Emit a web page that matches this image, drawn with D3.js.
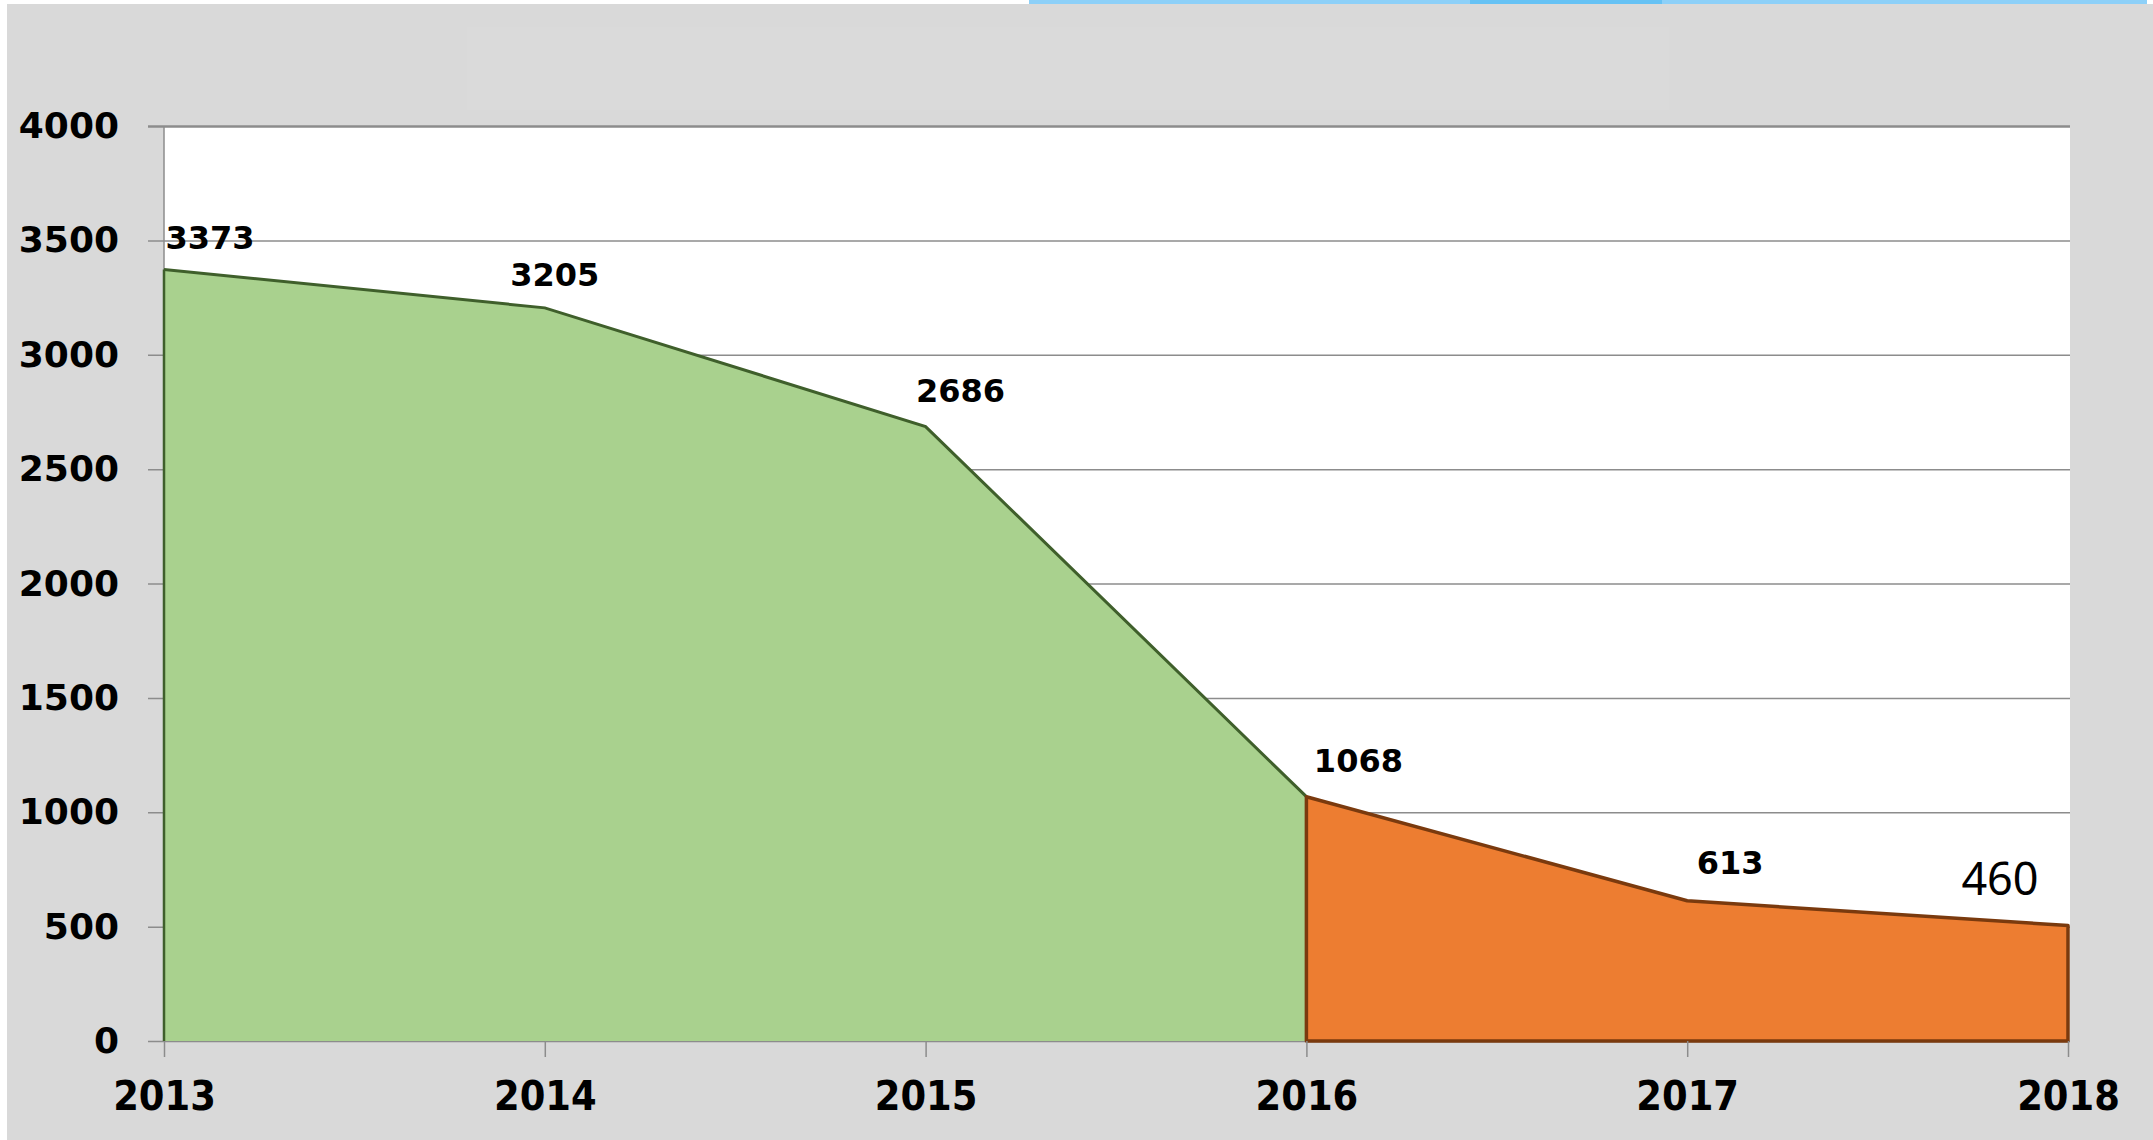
<!DOCTYPE html>
<html>
<head>
<meta charset="utf-8">
<script src="https://cdn.jsdelivr.net/npm/d3@7"></script>
<style>
  html, body { margin: 0; padding: 0; background: #ffffff; }
  svg { display: block; }
</style>
</head>
<body>
<svg width="2153" height="1140"></svg>
<script>
// data
var years = [2013, 2014, 2015, 2016, 2017, 2018];
var values = [3373, 3205, 2686, 1068, 613, 505];
var valueLabels = ["3373", "3205", "2686", "1068", "613", "460"];
var yTicks = [0, 500, 1000, 1500, 2000, 2500, 3000, 3500, 4000];
var splitYear = 2016;

window.onload = function() {

  var svg = d3.select("svg");
  var width = +svg.attr("width");
  var height = +svg.attr("height");

  var left = 164, right = 2068, top = 126, bottom = 1041;
  var plotRight = 2070;

  var x = d3.scaleLinear().domain([2013, 2018]).range([left, right]);
  var y = d3.scaleLinear().domain([0, 4000]).range([bottom, top]);

  // slide background
  svg.append("rect")
      .attr("x", 7).attr("y", 4)
      .attr("width", width - 7).attr("height", height - 4)
      .attr("fill", "#d9d9d9");
  svg.append("rect")
      .attr("x", 467).attr("y", 27)
      .attr("width", 1202).attr("height", 83)
      .attr("fill", "#dadada");
  // blue decoration at the top edge
  svg.append("rect")
      .attr("x", 1029).attr("y", 0)
      .attr("width", 1118).attr("height", 4)
      .attr("fill", "#8dd0f8");
  svg.append("rect")
      .attr("x", 1470).attr("y", 0)
      .attr("width", 192).attr("height", 4)
      .attr("fill", "#66c2f4");

  // plot area
  svg.append("rect")
      .attr("x", left).attr("y", top)
      .attr("width", plotRight - left).attr("height", bottom - top)
      .attr("fill", "#ffffff");

  // y axis with gridlines
  var yAxis = svg.append("g")
      .attr("transform", "translate(148,0)")
      .call(d3.axisLeft(y)
          .tickValues(yTicks)
          .tickFormat(d3.format("d"))
          .tickSizeInner(-(plotRight - 148))
          .tickSizeOuter(0)
          .tickPadding(29));
  yAxis.select(".domain").remove();
  yAxis.selectAll(".tick line")
      .attr("stroke", "#8c8c8c")
      .attr("stroke-width", function(d) { return d === 4000 ? 2.5 : 1.5; });
  yAxis.selectAll(".tick text")
      .attr("fill", "#000")
      .style("font-family", "'DejaVu Sans', Verdana, sans-serif")
      .style("font-weight", "bold")
      .style("font-size", "36px");

  // left axis line
  svg.append("line")
      .attr("x1", left).attr("x2", left)
      .attr("y1", top).attr("y2", bottom)
      .attr("stroke", "#8c8c8c")
      .attr("stroke-width", 1.5);

  // areas
  var area = d3.area()
      .x(function(d) { return x(d.year); })
      .y0(y(0))
      .y1(function(d) { return y(d.value); });

  var points = years.map(function(yr, i) { return { year: yr, value: values[i] }; });
  var before = points.filter(function(d) { return d.year <= splitYear; });
  var after = points.filter(function(d) { return d.year >= splitYear; });

  svg.append("path")
      .datum(before)
      .attr("d", area)
      .attr("fill", "#a9d18e");

  var topLine = d3.line()
      .x(function(d) { return x(d.year); })
      .y(function(d) { return y(d.value); });

  svg.append("path")
      .datum(before)
      .attr("d", topLine)
      .attr("fill", "none")
      .attr("stroke", "#3f5f2b")
      .attr("stroke-width", 3);
  svg.append("line")
      .attr("x1", x(2013)).attr("x2", x(2013))
      .attr("y1", y(values[0])).attr("y2", y(0))
      .attr("stroke", "#3f5f2b")
      .attr("stroke-width", 2.5);

  svg.append("path")
      .datum(after)
      .attr("d", area)
      .attr("fill", "#ed7d31")
      .attr("stroke", "#7a3a0e")
      .attr("stroke-width", 3.5)
      .attr("stroke-linejoin", "round");

  // x axis
  var xAxis = svg.append("g")
      .attr("transform", "translate(0," + bottom + ")")
      .call(d3.axisBottom(x)
          .tickValues(years)
          .tickFormat(d3.format("d"))
          .tickSizeInner(16)
          .tickSizeOuter(0));
  xAxis.select(".domain").remove();
  xAxis.selectAll(".tick line")
      .attr("stroke", "#8c8c8c")
      .attr("stroke-width", 1.5);
  xAxis.selectAll(".tick text")
      .attr("y", 69)
      .attr("dy", 0)
      .attr("fill", "#000")
      .style("font-family", "'DejaVu Sans Condensed', 'DejaVu Sans', sans-serif")
      .style("font-stretch", "condensed")
      .style("font-weight", "bold")
      .style("font-size", "41px");

  // value labels, nudged like the original hand-placed ones
  var labelNudge = [[46, -20], [10, -22], [35, -25], [52, -25], [43, -27], [-68, -30]];

  svg.append("g")
    .selectAll("text")
    .data(points)
    .enter().append("text")
      .attr("x", function(d, i) { return x(d.year) + labelNudge[i][0]; })
      .attr("y", function(d, i) { return y(d.value) + labelNudge[i][1]; })
      .attr("text-anchor", "middle")
      .attr("fill", "#000")
      .style("font-family", function(d, i) {
        return i === points.length - 1 ? "'Noto Sans', sans-serif" : "'DejaVu Sans', Verdana, sans-serif";
      })
      .style("font-weight", function(d, i) { return i === points.length - 1 ? "normal" : "bold"; })
      .style("font-size", function(d, i) { return i === points.length - 1 ? "45px" : "32px"; })
      .text(function(d, i) { return valueLabels[i]; });

};
</script>
</body>
</html>
